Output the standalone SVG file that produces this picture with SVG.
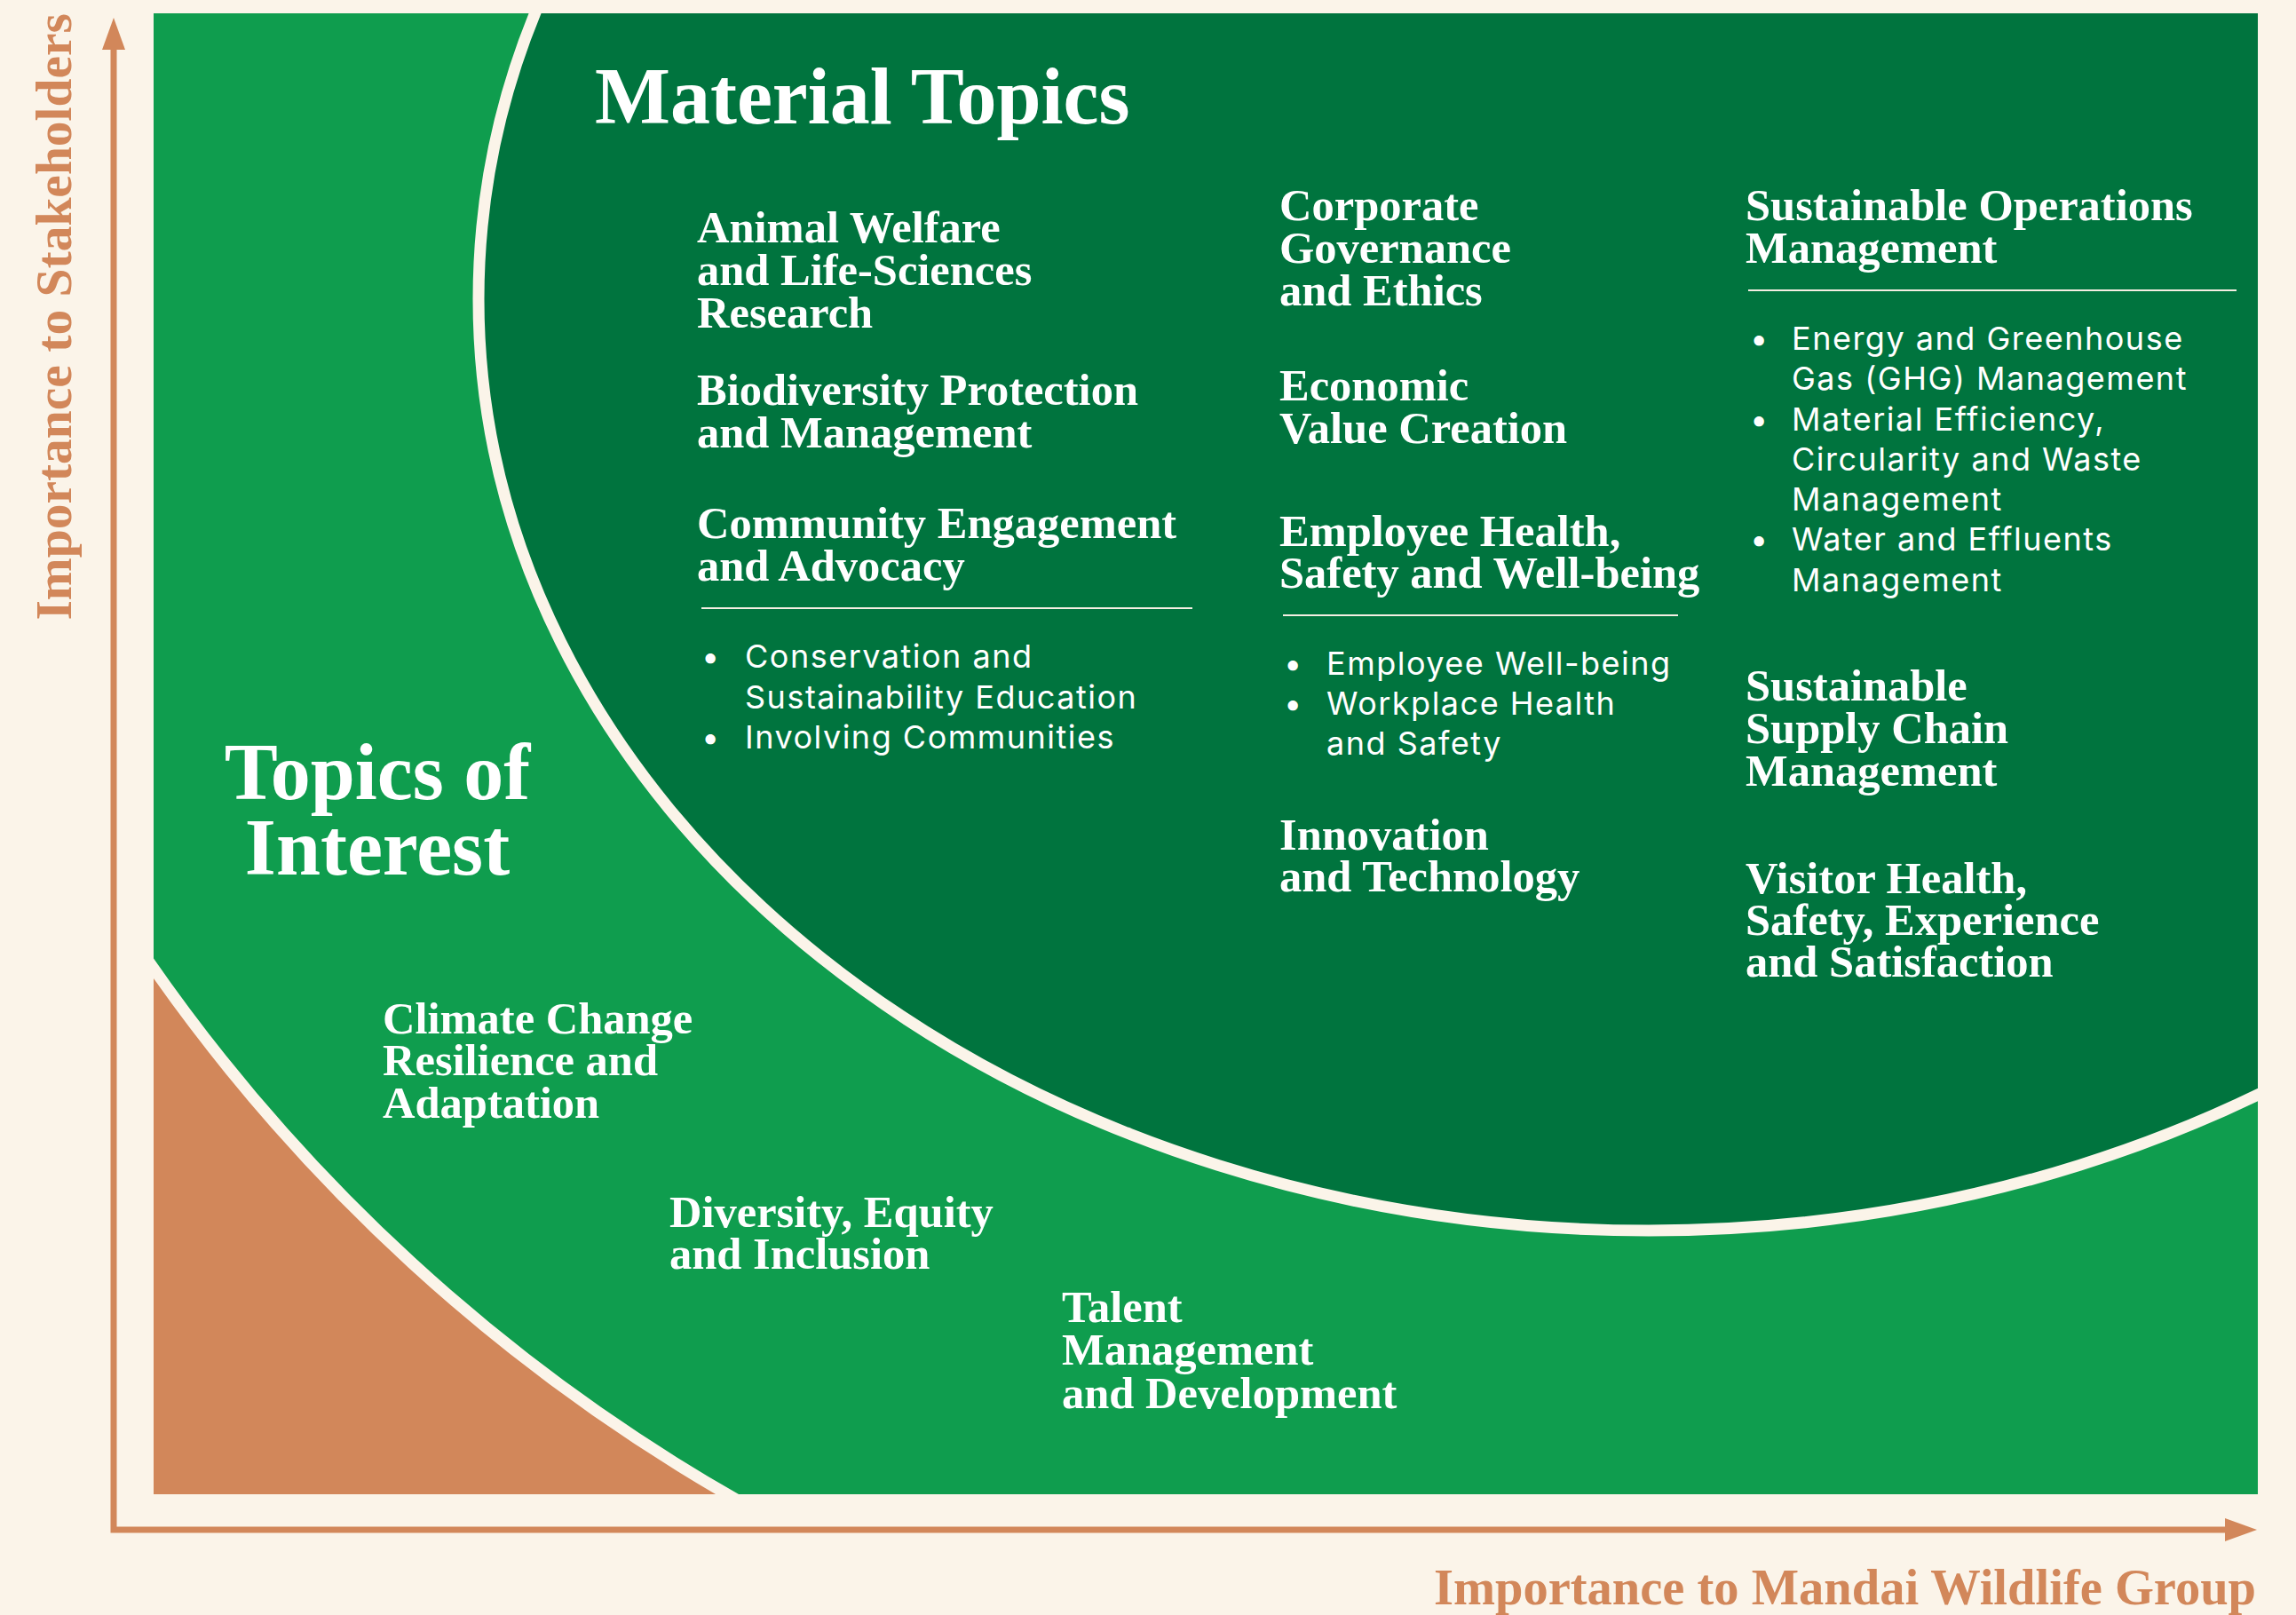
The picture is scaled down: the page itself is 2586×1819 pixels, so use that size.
<svg xmlns="http://www.w3.org/2000/svg" width="2586" height="1819" viewBox="0 0 2586 1819">
<style>
.h{font-family:"Liberation Serif","Times New Roman",serif;font-weight:bold;fill:#FFFFFF;font-size:50.5px}
.big{font-size:90px}
.b{font-family:Inter,"Noto Sans",sans-serif;font-weight:400;fill:#FFFFFF;font-size:36px;letter-spacing:1.5px}
.ax{font-family:"Liberation Serif","Times New Roman",serif;font-weight:bold;fill:#D2875A;font-size:56.5px}
.div{stroke:#F4EEE2;stroke-width:2}
.sep{fill:none;stroke:#FBF4E9;stroke-width:13}
</style>
<defs>
<clipPath id="plot"><rect x="173" y="15" width="2370" height="1668"/></clipPath>
<marker id="head" markerUnits="userSpaceOnUse" markerWidth="36" markerHeight="26" viewBox="0 0 36 26" refX="0" refY="13" orient="auto-start-reverse">
<path d="M0,0 L36,13 L0,26 Z" fill="#D2875A"/>
</marker>
</defs>
<rect width="2586" height="1819" fill="#FBF4E9"/>
<g id="regions" clip-path="url(#plot)">
<rect id="topics-of-interest-area" x="173" y="15" width="2370" height="1668" fill="#0F9D4E"/>
<path id="low-area" d="M173,1090 A2030,2030 0 0 0 824,1683 L173,1683 Z" fill="#D2875A"/>
<path class="sep" d="M160,1072 A2030,2030 0 0 0 840,1695"/>
<ellipse id="material-area" cx="1857" cy="337" rx="1318" ry="1049" fill="#00743E" stroke="#FBF4E9" stroke-width="13"/>
</g>
<g id="connectors">
<path d="M128,56 V1723 H2506" fill="none" stroke="#D2875A" stroke-width="7" marker-start="url(#head)" marker-end="url(#head)"/>
</g>
<g id="axis-y-label"><text class="ax" style="font-size:57.5px" transform="translate(80,15) rotate(-90)" text-anchor="end">Importance to Stakeholders</text></g>
<g id="axis-x-label"><text class="ax" x="2541" y="1807" text-anchor="end">Importance to Mandai Wildlife Group</text></g>
<g id="title-material"><text class="h big" x="670" y="139">Material Topics</text></g>
<g id="title-interest"><text class="h big" text-anchor="middle"><tspan x="425" y="900">Topics of</tspan><tspan x="425" y="985">Interest</tspan></text></g>
<g id="animal-welfare"><text class="h"><tspan x="785" y="273">Animal Welfare</tspan><tspan x="785" y="321">and Life-Sciences</tspan><tspan x="785" y="369">Research</tspan></text></g>
<g id="biodiversity"><text class="h"><tspan x="785" y="456">Biodiversity Protection</tspan><tspan x="785" y="504">and Management</tspan></text></g>
<g id="community"><text class="h"><tspan x="785" y="606">Community Engagement</tspan><tspan x="785" y="654">and Advocacy</tspan></text>
<line class="div" x1="790" y1="685" x2="1343" y2="685"/>
<text class="b"><tspan x="790" y="752">•</tspan><tspan x="839" y="752">Conservation and</tspan><tspan x="839" y="798">Sustainability Education</tspan><tspan x="790" y="843">•</tspan><tspan x="839" y="843">Involving Communities</tspan></text></g>
<g id="corporate"><text class="h"><tspan x="1441" y="248">Corporate</tspan><tspan x="1441" y="296">Governance</tspan><tspan x="1441" y="344">and Ethics</tspan></text></g>
<g id="economic"><text class="h"><tspan x="1441" y="451">Economic</tspan><tspan x="1441" y="499">Value Creation</tspan></text></g>
<g id="employee"><text class="h"><tspan x="1441" y="615">Employee Health,</tspan><tspan x="1441" y="662">Safety and Well-being</tspan></text>
<line class="div" x1="1445" y1="693" x2="1890" y2="693"/>
<text class="b"><tspan x="1446" y="760">•</tspan><tspan x="1494" y="760">Employee Well-being</tspan><tspan x="1446" y="805">•</tspan><tspan x="1494" y="805">Workplace Health</tspan><tspan x="1494" y="850">and Safety</tspan></text></g>
<g id="innovation"><text class="h"><tspan x="1441" y="957">Innovation</tspan><tspan x="1441" y="1004">and Technology</tspan></text></g>
<g id="operations"><text class="h"><tspan x="1966" y="248">Sustainable Operations</tspan><tspan x="1966" y="296">Management</tspan></text>
<line class="div" x1="1969" y1="327" x2="2519" y2="327"/>
<text class="b"><tspan x="1971" y="394">•</tspan><tspan x="2018" y="394">Energy and Greenhouse</tspan><tspan x="2018" y="439">Gas (GHG) Management</tspan><tspan x="1971" y="485">•</tspan><tspan x="2018" y="485">Material Efficiency,</tspan><tspan x="2018" y="530">Circularity and Waste</tspan><tspan x="2018" y="575">Management</tspan><tspan x="1971" y="620">•</tspan><tspan x="2018" y="620">Water and Effluents</tspan><tspan x="2018" y="666">Management</tspan></text></g>
<g id="supply-chain"><text class="h"><tspan x="1966" y="789">Sustainable</tspan><tspan x="1966" y="837">Supply Chain</tspan><tspan x="1966" y="885">Management</tspan></text></g>
<g id="visitor"><text class="h"><tspan x="1966" y="1006">Visitor Health,</tspan><tspan x="1966" y="1053">Safety, Experience</tspan><tspan x="1966" y="1100">and Satisfaction</tspan></text></g>
<g id="climate"><text class="h"><tspan x="431" y="1164">Climate Change</tspan><tspan x="431" y="1211">Resilience and</tspan><tspan x="431" y="1259">Adaptation</tspan></text></g>
<g id="diversity"><text class="h"><tspan x="754" y="1382">Diversity, Equity</tspan><tspan x="754" y="1429">and Inclusion</tspan></text></g>
<g id="talent"><text class="h"><tspan x="1196" y="1489">Talent</tspan><tspan x="1196" y="1537">Management</tspan><tspan x="1196" y="1586">and Development</tspan></text></g>
</svg>
